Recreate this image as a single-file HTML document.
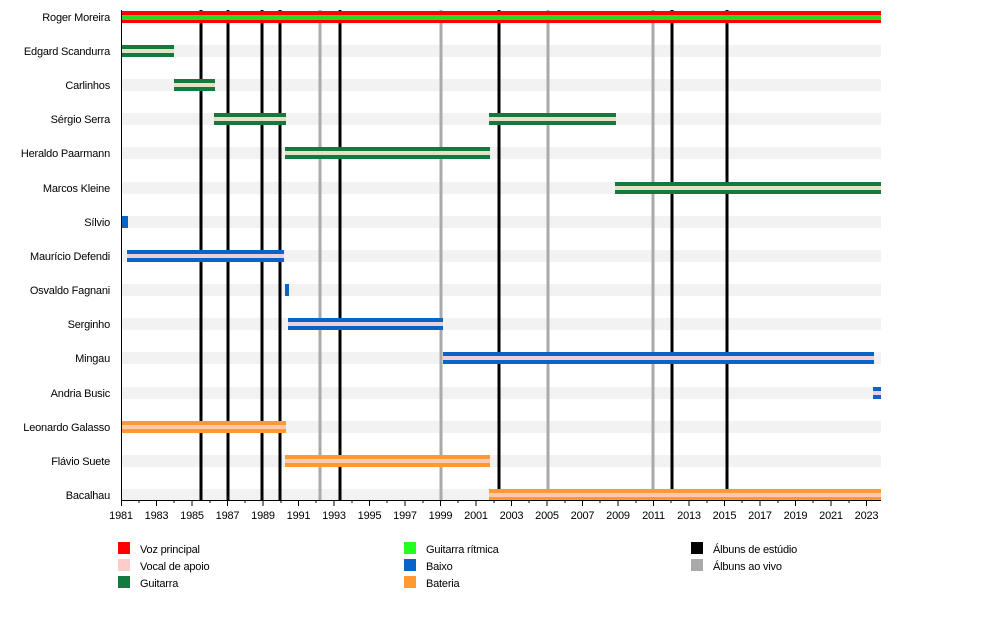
<!DOCTYPE html>
<html><head><meta charset="utf-8"><style>
body{margin:0;background:#fff}
svg{display:block;font-family:"Liberation Sans",sans-serif;font-size:11px;letter-spacing:-0.2px}
</style></head><body>
<svg width="1000" height="625" viewBox="0 0 1000 625">
<g fill="#f2f2f2">
<rect x="121" y="45" width="760" height="12"/><rect x="121" y="79" width="760" height="12"/>
<rect x="121" y="113" width="760" height="12"/><rect x="121" y="147" width="760" height="12"/>
<rect x="121" y="182" width="760" height="12"/><rect x="121" y="216" width="760" height="12"/>
<rect x="121" y="250" width="760" height="12"/><rect x="121" y="284" width="760" height="12"/>
<rect x="121" y="318" width="760" height="12"/><rect x="121" y="352" width="760" height="12"/>
<rect x="121" y="387" width="760" height="12"/><rect x="121" y="421" width="760" height="12"/>
<rect x="121" y="455" width="760" height="12"/><rect x="121" y="489" width="760" height="11"/>
</g>
<g stroke="#aaa" stroke-width="3">
<line x1="320" y1="10" x2="320" y2="500"/><line x1="441" y1="10" x2="441" y2="500"/>
<line x1="548" y1="10" x2="548" y2="500"/><line x1="653" y1="10" x2="653" y2="500"/>
</g>
<g stroke="#000" stroke-width="3">
<line x1="201" y1="10" x2="201" y2="500"/><line x1="228" y1="10" x2="228" y2="500"/>
<line x1="262" y1="10" x2="262" y2="500"/><line x1="280" y1="10" x2="280" y2="500"/>
<line x1="340" y1="10" x2="340" y2="500"/><line x1="499" y1="10" x2="499" y2="500"/>
<line x1="672" y1="10" x2="672" y2="500"/><line x1="727" y1="10" x2="727" y2="500"/>
</g>
<rect x="121" y="11" width="760" height="12" fill="#f00"/><rect x="121" y="15" width="760" height="5" fill="#2d2"/>
<g fill="#127a3e">
<rect x="121" y="45" width="53" height="12"/><rect x="174" y="79" width="41" height="12"/>
<rect x="214" y="113" width="72" height="12"/><rect x="489" y="113" width="127" height="12"/>
<rect x="285" y="147" width="205" height="12"/><rect x="615" y="182" width="266" height="12"/>
</g>
<g fill="#e6e0c4">
<rect x="121" y="49" width="53" height="4"/><rect x="174" y="83" width="41" height="4"/>
<rect x="214" y="117" width="72" height="4"/><rect x="489" y="117" width="127" height="4"/>
<rect x="285" y="151" width="205" height="4"/><rect x="615" y="186" width="266" height="4"/>
</g>
<g fill="#0a64c8">
<rect x="121" y="216" width="7" height="12"/><rect x="127" y="250" width="157" height="12"/>
<rect x="285" y="284" width="4" height="12"/><rect x="288" y="318" width="155" height="12"/>
<rect x="443" y="352" width="431" height="12"/><rect x="873" y="387" width="8" height="12"/>
</g>
<g fill="#ecd0dc">
<rect x="127" y="254" width="157" height="4"/><rect x="288" y="322" width="155" height="4"/>
<rect x="443" y="356" width="431" height="4"/><rect x="873" y="391" width="8" height="4"/>
</g>
<g fill="#ff9a33">
<rect x="121" y="421" width="165" height="12"/><rect x="285" y="455" width="205" height="12"/>
<rect x="489" y="489" width="392" height="11"/>
</g>
<g fill="#ffc8b0">
<rect x="121" y="425" width="165" height="4"/><rect x="285" y="459" width="205" height="4"/>
<rect x="489" y="493" width="392" height="4"/>
</g>
<g stroke="#000" stroke-width="1">
<line x1="121.5" y1="10" x2="121.5" y2="500"/><line x1="121" y1="500.5" x2="881" y2="500.5"/>
</g>
<g text-anchor="end" fill="#000">
<text x="110" y="21">Roger Moreira</text><text x="110" y="55">Edgard Scandurra</text>
<text x="110" y="89">Carlinhos</text><text x="110" y="123">Sérgio Serra</text>
<text x="110" y="157">Heraldo Paarmann</text><text x="110" y="192">Marcos Kleine</text>
<text x="110" y="226">Sílvio</text><text x="110" y="260">Maurício Defendi</text>
<text x="110" y="294">Osvaldo Fagnani</text><text x="110" y="328">Serginho</text>
<text x="110" y="362">Mingau</text><text x="110" y="397">Andria Busic</text>
<text x="110" y="431">Leonardo Galasso</text><text x="110" y="465">Flávio Suete</text>
<text x="110" y="499">Bacalhau</text>
</g>
<rect x="118" y="542" width="12" height="12" fill="#f00"/><text x="140" y="553">Voz principal</text>
<rect x="118" y="559" width="12" height="12" fill="#fcc"/><text x="140" y="570">Vocal de apoio</text>
<rect x="118" y="576" width="12" height="12" fill="#127a3e"/><text x="140" y="587">Guitarra</text>
<rect x="404" y="542" width="12" height="12" fill="#2f2"/><text x="426" y="553">Guitarra rítmica</text>
<rect x="404" y="559" width="12" height="12" fill="#0a64c8"/><text x="426" y="570">Baixo</text>
<rect x="404" y="576" width="12" height="12" fill="#ff9a33"/><text x="426" y="587">Bateria</text>
<rect x="691" y="542" width="12" height="12" fill="#000"/><text x="713" y="553">Álbuns de estúdio</text>
<rect x="691" y="559" width="12" height="12" fill="#aaa"/><text x="713" y="570">Álbuns ao vivo</text>
<g font-size="11" text-anchor="middle">
<g stroke="#000">
<line x1="121.5" y1="500" x2="121.5" y2="506"/><line x1="139" y1="500" x2="139" y2="503"/>
<line x1="156.5" y1="500" x2="156.5" y2="506"/><line x1="174" y1="500" x2="174" y2="503"/>
<line x1="192" y1="500" x2="192" y2="506"/><line x1="210" y1="500" x2="210" y2="503"/>
<line x1="227.5" y1="500" x2="227.5" y2="506"/><line x1="245" y1="500" x2="245" y2="503"/>
<line x1="263" y1="500" x2="263" y2="506"/><line x1="281" y1="500" x2="281" y2="503"/>
<line x1="298.5" y1="500" x2="298.5" y2="506"/><line x1="316" y1="500" x2="316" y2="503"/>
<line x1="334" y1="500" x2="334" y2="506"/><line x1="352" y1="500" x2="352" y2="503"/>
<line x1="369.5" y1="500" x2="369.5" y2="506"/><line x1="387" y1="500" x2="387" y2="503"/>
<line x1="405" y1="500" x2="405" y2="506"/><line x1="423" y1="500" x2="423" y2="503"/>
<line x1="440.5" y1="500" x2="440.5" y2="506"/><line x1="458" y1="500" x2="458" y2="503"/>
<line x1="476" y1="500" x2="476" y2="506"/><line x1="494" y1="500" x2="494" y2="503"/>
<line x1="511.5" y1="500" x2="511.5" y2="506"/><line x1="529" y1="500" x2="529" y2="503"/>
<line x1="547" y1="500" x2="547" y2="506"/><line x1="565" y1="500" x2="565" y2="503"/>
<line x1="582.5" y1="500" x2="582.5" y2="506"/><line x1="600" y1="500" x2="600" y2="503"/>
<line x1="618" y1="500" x2="618" y2="506"/><line x1="636" y1="500" x2="636" y2="503"/>
<line x1="653.5" y1="500" x2="653.5" y2="506"/><line x1="671" y1="500" x2="671" y2="503"/>
<line x1="689" y1="500" x2="689" y2="506"/><line x1="707" y1="500" x2="707" y2="503"/>
<line x1="724.5" y1="500" x2="724.5" y2="506"/><line x1="742" y1="500" x2="742" y2="503"/>
<line x1="760" y1="500" x2="760" y2="506"/><line x1="778" y1="500" x2="778" y2="503"/>
<line x1="795.5" y1="500" x2="795.5" y2="506"/><line x1="813" y1="500" x2="813" y2="503"/>
<line x1="831" y1="500" x2="831" y2="506"/><line x1="849" y1="500" x2="849" y2="503"/>
<line x1="866.5" y1="500" x2="866.5" y2="506"/>
</g>
<text x="121" y="519">1981</text><text x="156.5" y="519">1983</text><text x="192" y="519">1985</text>
<text x="227.5" y="519">1987</text><text x="263" y="519">1989</text><text x="298.5" y="519">1991</text>
<text x="334" y="519">1993</text><text x="369.5" y="519">1995</text><text x="405" y="519">1997</text>
<text x="440.5" y="519">1999</text><text x="476" y="519">2001</text><text x="511.5" y="519">2003</text>
<text x="547" y="519">2005</text><text x="582.5" y="519">2007</text><text x="618" y="519">2009</text>
<text x="653.5" y="519">2011</text><text x="689" y="519">2013</text><text x="724.5" y="519">2015</text>
<text x="760" y="519">2017</text><text x="795.5" y="519">2019</text><text x="831" y="519">2021</text>
<text x="866.5" y="519">2023</text>
</g>
</svg>
</body></html>
